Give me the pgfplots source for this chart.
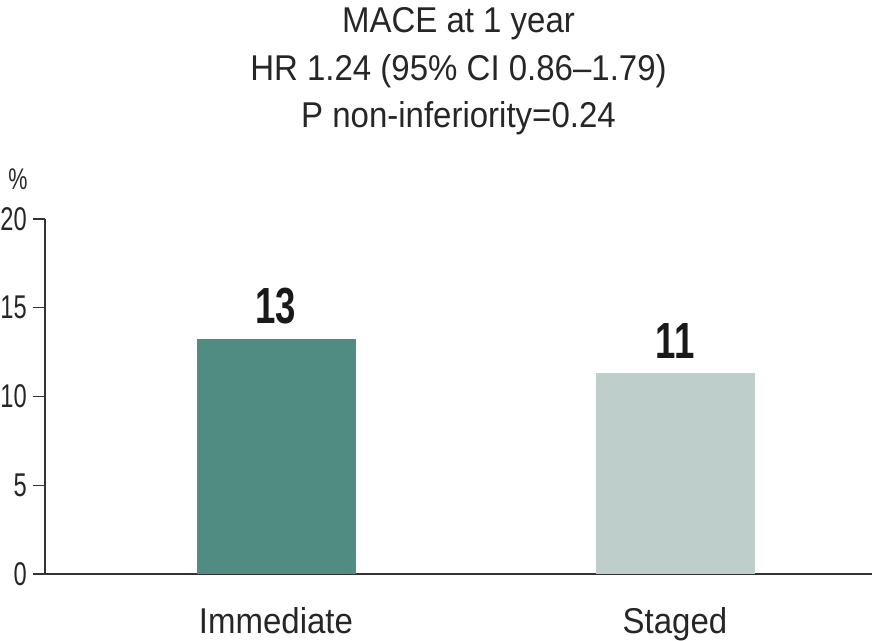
\documentclass[border=0pt]{standalone}
\usepackage{fontspec}
\setmainfont{Liberation Sans}[FakeStretch=0.92]
\newfontfamily\numfont{Liberation Sans}[FakeStretch=0.72]
\usepackage{pgfplots}
\pgfplotsset{compat=1.18}
\usetikzlibrary{calc}
\definecolor{immc}{HTML}{518C82}
\definecolor{stgc}{HTML}{BDCECB}
\definecolor{axc}{HTML}{333333}
\begin{document}
\begin{tikzpicture}
\begin{axis}[
  scale only axis,
  width=827bp, height=355bp,
  xmin=0, xmax=827, ymin=0, ymax=20,
  axis lines*=left,
  axis line style={axc, line width=1.5bp},
  ytick={0,5,10,15,20},
  tick style={axc, line width=1.5bp},
  major tick length=12bp,
  tick align=outside,
  ytick pos=left,
  /pgf/number format/assume math mode=true,
  yticklabel style={font=\numfont\fontsize{33}{33}\selectfont, inner sep=0pt, xshift=-6bp, text=black!85},
  xtick={231,630},
  xticklabels={Immediate,Staged},
  x tick style={draw=none},
  xticklabel style={font=\fontsize{36}{36}\selectfont, text=black!85, anchor=base, yshift=-47bp},
  ybar, bar width=159bp, bar shift=0pt,
  point meta=explicit symbolic,
  nodes near coords,
  nodes near coords style={font=\bfseries\numfont\fontsize{51}{51}\selectfont, text=black!90, anchor=south, inner sep=0pt, yshift=15bp},
  clip=false,
]
\addplot[fill=immc, draw=none] coordinates {(231,13.25) [13]};
\addplot[fill=stgc, draw=none] coordinates {(630,11.3) [11]};
\coordinate (BL) at (rel axis cs:0,0);
\coordinate (TR) at (rel axis cs:1,1);
\coordinate (TC) at (rel axis cs:0.5,1);
\coordinate (TL) at (rel axis cs:0,1);
\end{axis}
\node[font=\fontsize{36}{48}\selectfont, align=center, anchor=base, text=black!85, inner sep=0pt] at ($(TC)+(0,91bp)$) {MACE at 1 year\\HR 1.24 (95\% CI 0.86--1.79)\\P non-inferiority=0.24};
\node[font=\numfont\fontsize{30}{30}\selectfont, anchor=base, inner sep=0pt, text=black!85] at ($(TL)+(-27bp,29bp)$) {\%};
\pgfresetboundingbox
\path ($(BL)+(-45bp,-67bp)$) rectangle ($(TR)+(0,219bp)$);
\end{tikzpicture}
\end{document}
